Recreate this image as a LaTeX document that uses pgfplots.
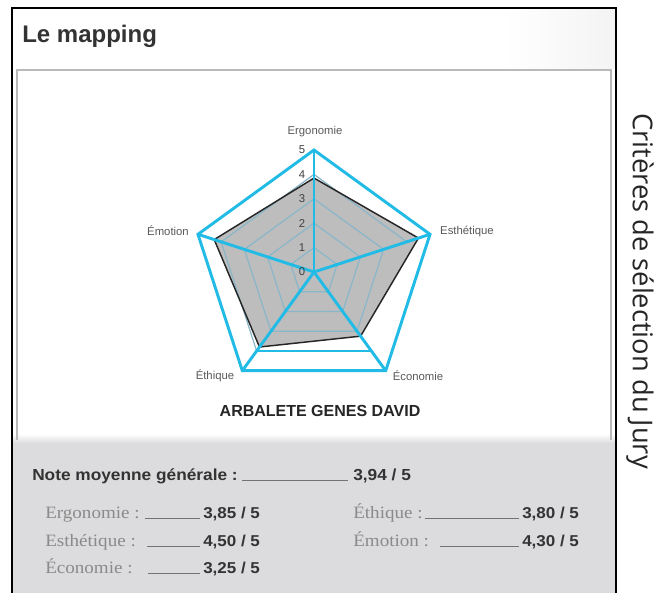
\documentclass[border=0pt]{standalone}
\usepackage{pgfplots}
\pgfplotsset{compat=1.18}
\usepgfplotslibrary{polar}
\usepackage{fontspec}
\setmainfont{Liberation Sans}
\newfontfamily\bsans[FakeStretch=1.08]{Liberation Sans}
\newfontfamily\bserif[FakeStretch=1.1]{Liberation Serif}
\newfontfamily\osans{Open Sans}
\definecolor{radblue}{HTML}{22BBE6}
\definecolor{gridc}{HTML}{8AB6CA}
\definecolor{fillg}{HTML}{BDBDBD}
\definecolor{panelg}{HTML}{DCDCDE}
\definecolor{namec}{HTML}{8A8A8A}
\definecolor{valc}{HTML}{333333}
\begin{document}
\begin{tikzpicture}[x=0.75pt,y=0.75pt]
\useasboundingbox (0,0) rectangle (666,-592);
\fill[white] (0,0) rectangle (666,-592);
% header shade
\shade[left color=white, right color=gray!9] (505,-10) rectangle (615,-68);
% bottom grey panel
\fill[panelg] (13,-442) rectangle (615,-600);
\shade[top color=white, bottom color=panelg] (13,-434) rectangle (615,-443);
% inner panel border
\draw[gray!55, line width=1.1pt] (17,-440) -- (17,-70) -- (611,-70) -- (611,-440);
% frame
\draw[black, line width=1.5pt] (12,-600) -- (12,-8) -- (616,-8) -- (616,-600);
\node[anchor=base west, inner sep=0, font=\fontsize{18}{20}\selectfont\bfseries, text=black!80] at (22,-43) {Le mapping};

\begin{polaraxis}[at={(235.5pt,-204pt)}, anchor=center, width=183pt, height=183pt,
  scale only axis, ymin=0, ymax=5, xmin=0, xmax=360, hide axis, clip=false]
% data fill
\addplot[fill=fillg, draw=none] coordinates {(90,3.85) (18,4.50) (306,3.25) (234,3.80) (162,4.30) (90,3.85)};
% grid
\addplot[gridc, line width=0.9pt] coordinates {(90,1)(18,1)(306,1)(234,1)(162,1)(90,1)(18,1)};
\addplot[gridc, line width=0.9pt] coordinates {(90,2)(18,2)(306,2)(234,2)(162,2)(90,2)(18,2)};
\addplot[gridc, line width=0.9pt] coordinates {(90,3)(18,3)(306,3)(234,3)(162,3)(90,3)(18,3)};
\addplot[gridc, line width=0.9pt] coordinates {(234,4)(162,4)(90,4)(18,4)};
% data outline
\addplot[black!85, line width=1.1pt, line join=round] coordinates {(90,3.85) (18,4.50) (306,3.25) (234,3.80) (162,4.30) (90,3.85) (18,4.50)};
% blue frame (scale maximum)
\addplot[radblue, line width=2.2pt, line join=miter] coordinates {(90,5)(18,5)(306,5)(234,5)(162,5)(90,5)(18,5)};
\addplot[radblue, line width=2.2pt] coordinates {(90,0)(90,5)};
\addplot[radblue, line width=2.2pt] coordinates {(18,0)(18,5)};
\addplot[radblue, line width=2.2pt] coordinates {(306,0)(306,5)};
\addplot[radblue, line width=2.2pt] coordinates {(234,0)(234,5)};
\addplot[radblue, line width=2.2pt] coordinates {(162,0)(162,5)};
\addplot[radblue, line width=2.2pt] coordinates {(306,4)(234,4)};
% radial tick labels
\foreach \v in {0,...,5}{
  \edef\temp{\noexpand\node[font=\noexpand\fontsize{8.5}{9}\noexpand\selectfont, text=black!75, xshift=-9pt] at (axis cs:90,\v) {\v};}
  \temp
}
\end{polaraxis}

% category labels
\begin{scope}[every node/.style={font=\fontsize{8.5}{10}\selectfont, text=black!65, inner sep=0}]
\node at (315,-132) {Ergonomie};
\node at (467,-232) {Esthétique};
\node at (418,-376) {Économie};
\node at (215,-376) {Éthique};
\node at (168,-231) {Émotion};
\end{scope}

\node[anchor=base, inner sep=0, font=\fontsize{12}{14}\selectfont\bfseries, text=black!85] at (320,-416) {ARBALETE GENES DAVID};

% right vertical caption
\node[rotate=-90, inner sep=0, font=\osans\fontsize{20.5}{22}\selectfont, text=black!85] at (640,-291) {Critères de sélection du Jury};

% bottom summary
\node[anchor=base west, inner sep=0, font=\bsans\bfseries\fontsize{12}{14}\selectfont, text=valc] at (32,-480) {Note moyenne générale :};
\draw[black!55, line width=0.5pt] (242,-480) -- (348,-480);
\node[anchor=base west, inner sep=0, font=\bsans\bfseries\fontsize{12}{14}\selectfont, text=valc] at (353,-480) {3,94 / 5};

\begin{scope}[every node/.style={anchor=base west, inner sep=0}]
\node[font=\bserif\fontsize{13}{15}\selectfont, text=namec] at (45,-518) {Ergonomie :};
\node[font=\bserif\fontsize{13}{15}\selectfont, text=namec] at (45,-546) {Esthétique :};
\node[font=\bserif\fontsize{13}{15}\selectfont, text=namec] at (45,-573) {Économie :};
\node[font=\bserif\fontsize{13}{15}\selectfont, text=namec] at (353,-518) {Éthique :};
\node[font=\bserif\fontsize{13}{15}\selectfont, text=namec] at (353,-546) {Émotion :};
\node[font=\bsans\bfseries\fontsize{11.8}{13}\selectfont, text=valc] at (203,-518) {3,85 / 5};
\node[font=\bsans\bfseries\fontsize{11.8}{13}\selectfont, text=valc] at (203,-546) {4,50 / 5};
\node[font=\bsans\bfseries\fontsize{11.8}{13}\selectfont, text=valc] at (203,-573) {3,25 / 5};
\node[font=\bsans\bfseries\fontsize{11.8}{13}\selectfont, text=valc] at (522,-518) {3,80 / 5};
\node[font=\bsans\bfseries\fontsize{11.8}{13}\selectfont, text=valc] at (522,-546) {4,30 / 5};
\end{scope}
\draw[black!55, line width=0.5pt] (145,-518) -- (200,-518);
\draw[black!55, line width=0.5pt] (147,-546) -- (200,-546);
\draw[black!55, line width=0.5pt] (148,-573) -- (200,-573);
\draw[black!55, line width=0.5pt] (425,-518) -- (519,-518);
\draw[black!55, line width=0.5pt] (440,-546) -- (519,-546);
\end{tikzpicture}
\end{document}
